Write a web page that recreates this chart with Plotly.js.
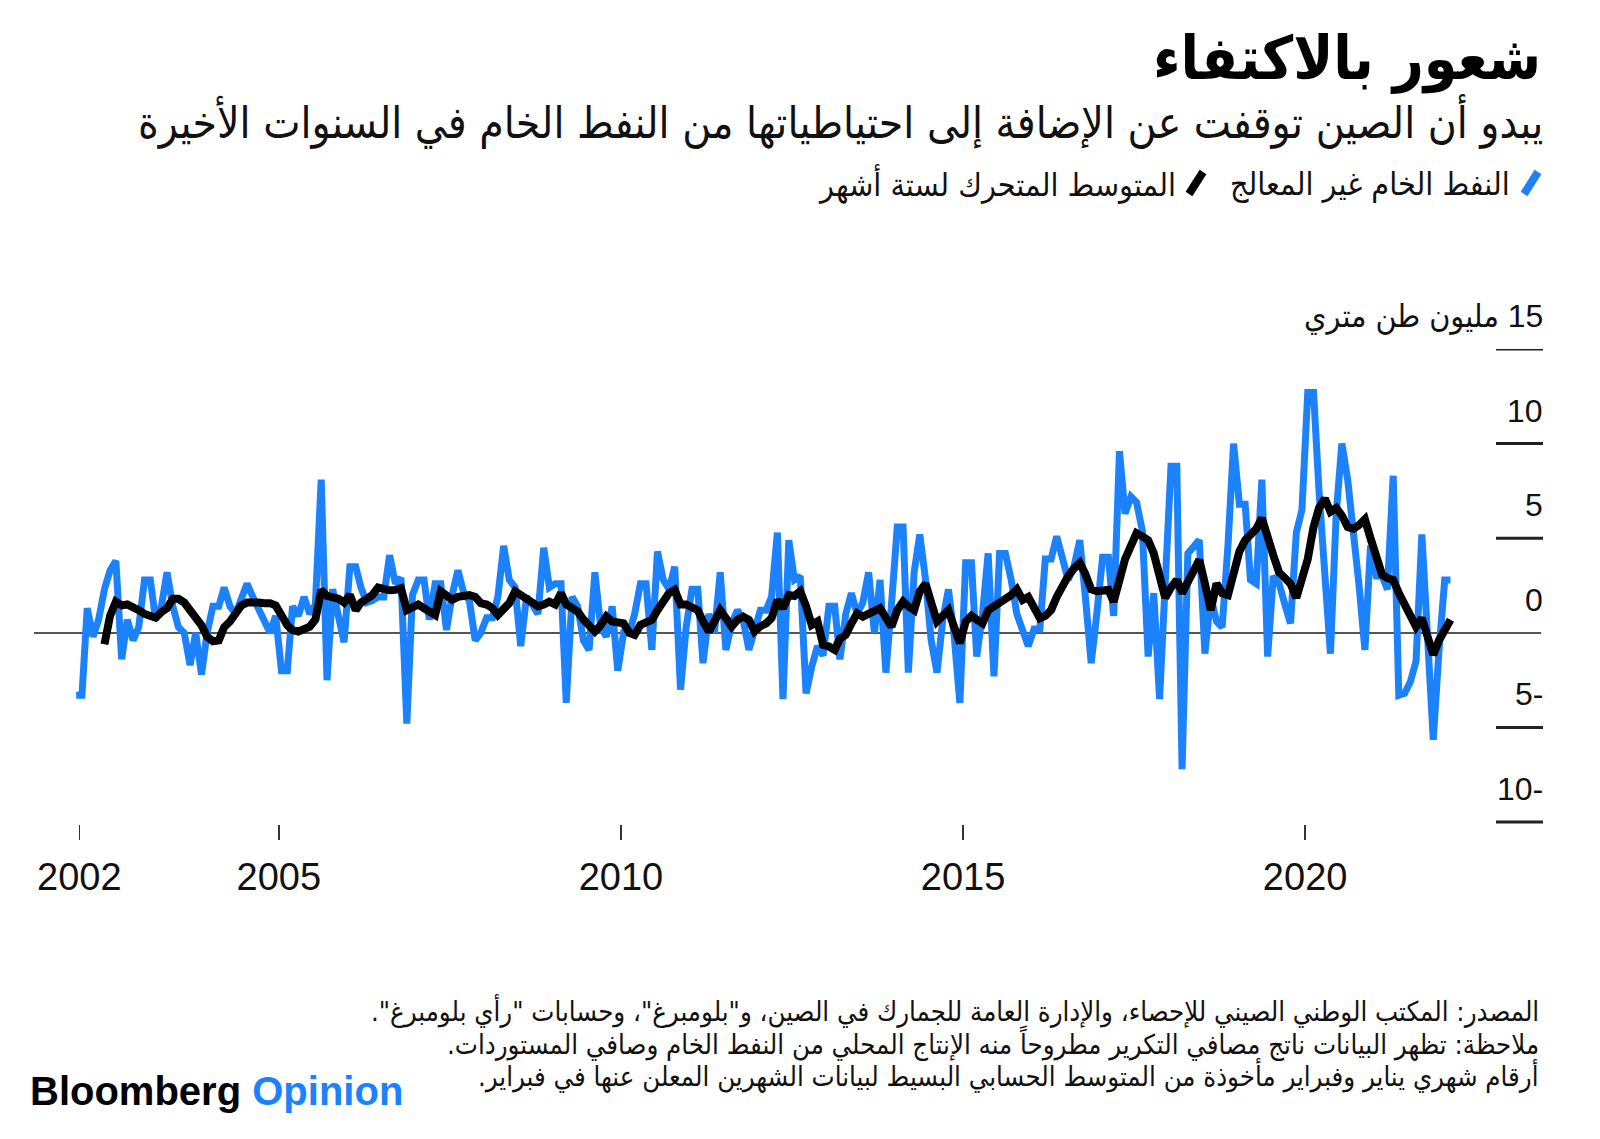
<!DOCTYPE html>
<html>
<head>
<meta charset="utf-8">
<script src="https://cdn.plot.ly/plotly-3.0.1.min.js"></script>
<style>
  html, body { margin: 0; padding: 0; background: #fff; }
  #chart { width: 1600px; height: 1139px; }
</style>
</head>
<body>
<div id="chart"></div>
<script>
// monthly net crude added to stockpiles, million metric tons (Jan 2002 .. Feb 2022)
const crudeMonthly = [
  -3.3, -3.3, 1.3, -0.2, 0.7, 2.3, 3.3, 3.8, -1.4, 0.7, -0.4, 0.3, // 2002
  2.8, 2.8, 0.7, 1.4, 3.2, 1.4, 0.3, 0.0, -1.7, 0.0, -2.2, 0.0, // 2003
  1.4, 1.4, 2.4, 1.4, 1.0, 1.8, 2.6, 1.9, 1.2, 0.5, 0.0, 0.9, // 2004
  -2.0, -2.0, 1.4, 0.9, 1.9, 1.0, 1.5, 8.1, -2.5, 2.3, 1.0, -0.5, // 2005
  3.5, 3.5, 2.4, 1.6, 1.7, 1.9, 1.9, 4.1, 2.6, 2.9, -4.8, 2.0, // 2006
  2.8, 2.8, 0.7, 2.6, 2.6, 0.15, 2.0, 3.3, 2.1, 1.7, -0.4, 0.0, // 2007
  0.8, 0.8, 1.9, 4.6, 2.8, 2.4, -0.7, 1.9, 1.5, 1.0, 4.5, 2.4, // 2008
  2.6, 2.6, -3.7, 1.9, 1.4, -0.4, -0.9, 3.2, 0.3, -0.2, 1.4, -2.0, // 2009
  0.0, 0.0, 1.0, 2.6, 2.6, -0.9, 4.3, 2.8, 2.3, 3.5, -3.0, 0.3, // 2010
  2.3, 2.3, -1.6, 1.0, 0.0, 3.2, -0.9, 0.5, 1.2, 0.7, -0.9, 0.0, // 2011
  1.2, 1.2, 1.9, 5.3, -3.5, 4.9, 2.8, 3.0, -3.2, -1.8, -0.7, -1.2, // 2012
  1.4, 1.4, -1.4, 1.0, 2.1, 1.0, 1.6, 3.2, 0.0, 2.8, -2.1, 1.5, // 2013
  5.6, 5.6, -2.1, 3.2, 5.2, 2.8, -0.4, -2.1, 0.7, 2.3, -0.2, -3.7, // 2014
  3.7, 3.7, -1.25, 1.0, 4.2, -2.3, 4.2, 4.2, 2.8, 1.0, 0.2, -0.7, // 2015
  0.2, 0.2, 3.9, 3.9, 5.1, 3.9, 2.8, 3.5, 4.9, 1.9, -1.6, 1.0, // 2016
  4.0, 4.0, 0.9, 9.6, 6.3, 7.2, 6.9, 5.4, -1.25, 2.1, -3.5, 2.6, // 2017
  8.8, 8.8, -7.2, 4.2, 4.6, 4.9, -1.1, 1.9, 0.6, 0.3, 4.6, 10.0, // 2018
  6.8, 6.8, 2.8, 2.6, 8.1, -1.25, 3.0, 2.6, 1.5, 0.5, 5.3, 6.5, // 2019
  12.7, 12.7, 7.5, 3.5, -1.1, 6.3, 10.0, 8.1, 5.6, 2.5, -0.9, 4.6, // 2020
  3.0, 3.0, 2.3, 8.3, -3.3, -3.2, -2.6, -1.5, 5.2, 0.0, -5.65, -1.0, // 2021
  2.8, 2.8 // 2022
];

// six-month moving average (Jun 2002 .. Feb 2022)
const movingAvg6 = [
  -0.6, 0.9, 1.65, 1.45, 1.5, 1.4, 1.2, // 2002 (Jun-Dec)
  1.0, 0.9, 0.8, 1.1, 1.3, 1.8, 1.8, 1.6, 1.2, 0.8, 0.4, -0.2,
  -0.45, -0.4, 0.3, 0.6, 1.0, 1.45, 1.6, 1.65, 1.6, 1.57, 1.57, 1.45,
  0.9, 0.4, 0.15, 0.07, 0.2, 0.33, 0.7, 2.27, 1.95, 1.9, 1.8, 1.6,
  2.0, 1.2, 1.6, 1.8, 2.0, 2.4, 2.3, 2.25, 2.27, 2.36, 1.2, 1.35,
  1.5, 1.3, 1.1, 0.95, 2.2, 1.9, 1.75, 1.9, 1.95, 2.0, 1.9, 1.57,
  1.5, 1.3, 0.95, 1.2, 1.57, 2.2, 2.0, 1.83, 1.65, 1.4, 1.5, 1.65,
  1.5, 2.1, 1.5, 1.3, 1.13, 0.7, 0.4, 0.07, 0.4, 0.86, 0.6, 0.55,
  0.5, 0.0, -0.1, 0.42, 0.55, 0.69, 1.2, 1.7, 2.1, 2.27, 1.5, 1.5,
  1.3, 1.2, 0.6, 0.07, 0.6, 1.2, 0.78, 0.33, 0.7, 0.86, 0.69, 0.07,
  0.35, 0.5, 0.78, 1.74, 1.3, 2.0, 1.95, 2.2, 1.4, 0.42, 0.6, -0.63,
  -0.72, -0.9, -0.3, -0.1, 0.5, 1.04, 0.86, 1.0, 1.2, 1.3, 0.8, 0.33,
  1.2, 1.65, 1.4, 1.2, 2.2, 2.6, 1.6, 0.6, 0.9, 1.2, 0.3, -0.55,
  0.6, 0.9, 0.7, 0.5, 1.2, 1.4, 1.6, 1.74, 2.0, 2.3, 1.74, 1.9,
  1.3, 0.78, 0.9, 1.2, 1.9, 2.5, 3.0, 3.4, 3.7, 3.1, 2.3, 2.2,
  2.25, 2.27, 1.65, 2.9, 3.9, 4.6, 5.27, 5.1, 4.9, 4.2, 2.8, 1.85,
  2.4, 2.8, 2.1, 2.7, 3.4, 3.86, 2.6, 1.2, 2.6, 2.1, 2.0, 3.0,
  4.3, 4.9, 5.2, 5.5, 6.06, 4.9, 4.1, 3.2, 2.9, 2.6, 1.85, 2.9,
  3.9, 5.6, 6.6, 7.1, 6.4, 6.6, 6.2, 5.6, 5.5, 5.7, 6.0, 5.0,
  4.0, 3.07, 2.9, 2.8, 2.1, 1.5, 0.9, 0.33, 0.78, -0.2, -1.16, -0.4,
  0.1, 0.69
];

const yearTickDates = ['2002-02-01', '2005-01-01', '2010-01-01', '2015-01-01', '2020-01-01'];
const yearTickText = ['2002', '2005', '2010', '2015', '2020'];
const yTickVals = [-10, -5, 0, 5, 10, 15];
const yTickText = ['10-', '5-', '0', '5', '10', '15 مليون طن متري'];
const gridVals = [-10, -5, 5, 10, 15]; // short black rules at the right

const seriesNames = ['النفط الخام غير المعالج', 'المتوسط المتحرك لستة أشهر'];
const titleText = 'شعور بالاكتفاء';
const subtitleText = 'يبدو أن الصين توقفت عن الإضافة إلى احتياطياتها من النفط الخام في السنوات الأخيرة';
const footLines = [
  'المصدر: المكتب الوطني الصيني للإحصاء، والإدارة العامة للجمارك في الصين، و"بلومبرغ"، وحسابات "رأي بلومبرغ".',
  'ملاحظة: تظهر البيانات ناتج مصافي التكرير مطروحاً منه الإنتاج المحلي من النفط الخام وصافي المستوردات.',
  'أرقام شهري يناير وفبراير مأخوذة من المتوسط الحسابي البسيط لبيانات الشهرين المعلن عنها في فبراير.'
];

const BLUE = '#1c82fb';
const ARABIC = '"DejaVu Sans Condensed", "DejaVu Sans", sans-serif';
const LATIN = '"Liberation Sans", Arial, sans-serif';
const MIXED = '"Liberation Sans", "DejaVu Sans Condensed", sans-serif';

// month stamps, mid-month
const months = [];
for (let i = 0; i < crudeMonthly.length; i += 1) {
  const y = 2002 + Math.floor(i / 12);
  const m = (i % 12) + 1;
  months.push(`${y}-${String(m).padStart(2, '0')}-15`);
}

// plot box in page pixels, used to place text and legend marks
const plotL = 34;
const plotR = 1541;
const plotT = 349;
const plotB = 824;
function paperX(px) { return (px - plotL) / (plotR - plotL); }
function paperY(py) { return (plotB - py) / (plotB - plotT); }

// right-to-left embedding so numbers and end punctuation land where Arabic expects
const rtl = (s) => `\u202B${s}\u202C`;

const traces = [
  {
    x: months,
    y: crudeMonthly,
    type: 'scatter',
    mode: 'lines',
    name: seriesNames[0],
    line: { color: BLUE, width: 7 },
  },
  {
    x: months.slice(crudeMonthly.length - movingAvg6.length),
    y: movingAvg6,
    type: 'scatter',
    mode: 'lines',
    name: seriesNames[1],
    line: { color: '#000', width: 8 },
  },
];

const shapes = gridVals.map((v) => ({
  type: 'line',
  xref: 'paper',
  yref: 'y',
  x0: paperX(1496),
  x1: paperX(1543),
  y0: v,
  y1: v,
  line: { color: '#222', width: 3 },
}));

// slanted legend keys
shapes.push(
  {
    type: 'line', xref: 'paper', yref: 'paper',
    x0: paperX(1524), x1: paperX(1538), y0: paperY(194), y1: paperY(172),
    line: { color: BLUE, width: 8 },
  },
  {
    type: 'line', xref: 'paper', yref: 'paper',
    x0: paperX(1189), x1: paperX(1203), y0: paperY(194), y1: paperY(172),
    line: { color: '#000', width: 8 },
  },
);

function note(text, x, y, size, anchor, extra) {
  return Object.assign({
    text,
    xref: 'paper',
    yref: 'paper',
    x: paperX(x),
    y: paperY(y),
    xanchor: anchor,
    yanchor: 'middle',
    showarrow: false,
    font: { family: ARABIC, size, color: '#111' },
  }, extra || {});
}

const annotations = [
  note(titleText, 1543, 58, 60, 'right', { font: { family: ARABIC, size: 60, color: '#000', weight: 700 } }),
  note(subtitleText, 1545, 122, 44, 'right'),
  note(seriesNames[0], 1512, 184, 32, 'right'),
  note(seriesNames[1], 1178, 184, 32, 'right'),
  note(rtl(footLines[0]), 1541, 1010, 27.3, 'right'),
  note(rtl(footLines[1]), 1541, 1043, 27.3, 'right'),
  note(rtl(footLines[2]), 1541, 1075, 27.3, 'right'),
  note(`Bloomberg <span style="color:${BLUE}">Opinion</span>`, 28, 1091, 40, 'left',
    { font: { family: LATIN, size: 40, color: '#000', weight: 700 } }),
];

// value labels sit above their rule, right aligned
yTickVals.forEach((v, i) => {
  annotations.push({
    text: v === 15 ? rtl(yTickText[i]) : yTickText[i],
    xref: 'paper',
    yref: 'y',
    x: paperX(1545),
    y: v,
    xanchor: 'right',
    yanchor: 'middle',
    yshift: 33,
    showarrow: false,
    font: { family: MIXED, size: 32, color: '#111' },
  });
});

const layout = {
  width: 1600,
  height: 1139,
  margin: { l: plotL, r: 1600 - plotR, t: plotT, b: 1139 - plotB, pad: 0 },
  paper_bgcolor: '#fff',
  plot_bgcolor: '#fff',
  showlegend: false,
  xaxis: {
    type: 'date',
    range: ['2001-06-04', '2023-06-13'],
    tickvals: yearTickDates,
    ticktext: yearTickText,
    ticks: 'outside',
    ticklen: 15,
    tickwidth: 1.5,
    tickcolor: '#333',
    ticklabelstandoff: 4,
    tickfont: { family: LATIN, size: 38, color: '#111' },
    showgrid: false,
    showline: false,
    zeroline: false,
  },
  yaxis: {
    range: [-10.1, 15],
    showticklabels: false,
    ticks: '',
    showgrid: false,
    showline: false,
    zeroline: true,
    zerolinecolor: '#555',
    zerolinewidth: 2,
    automargin: false,
  },
  shapes,
  annotations,
};

Plotly.newPlot('chart', traces, layout, { displayModeBar: false, staticPlot: true });
</script>
</body>
</html>
